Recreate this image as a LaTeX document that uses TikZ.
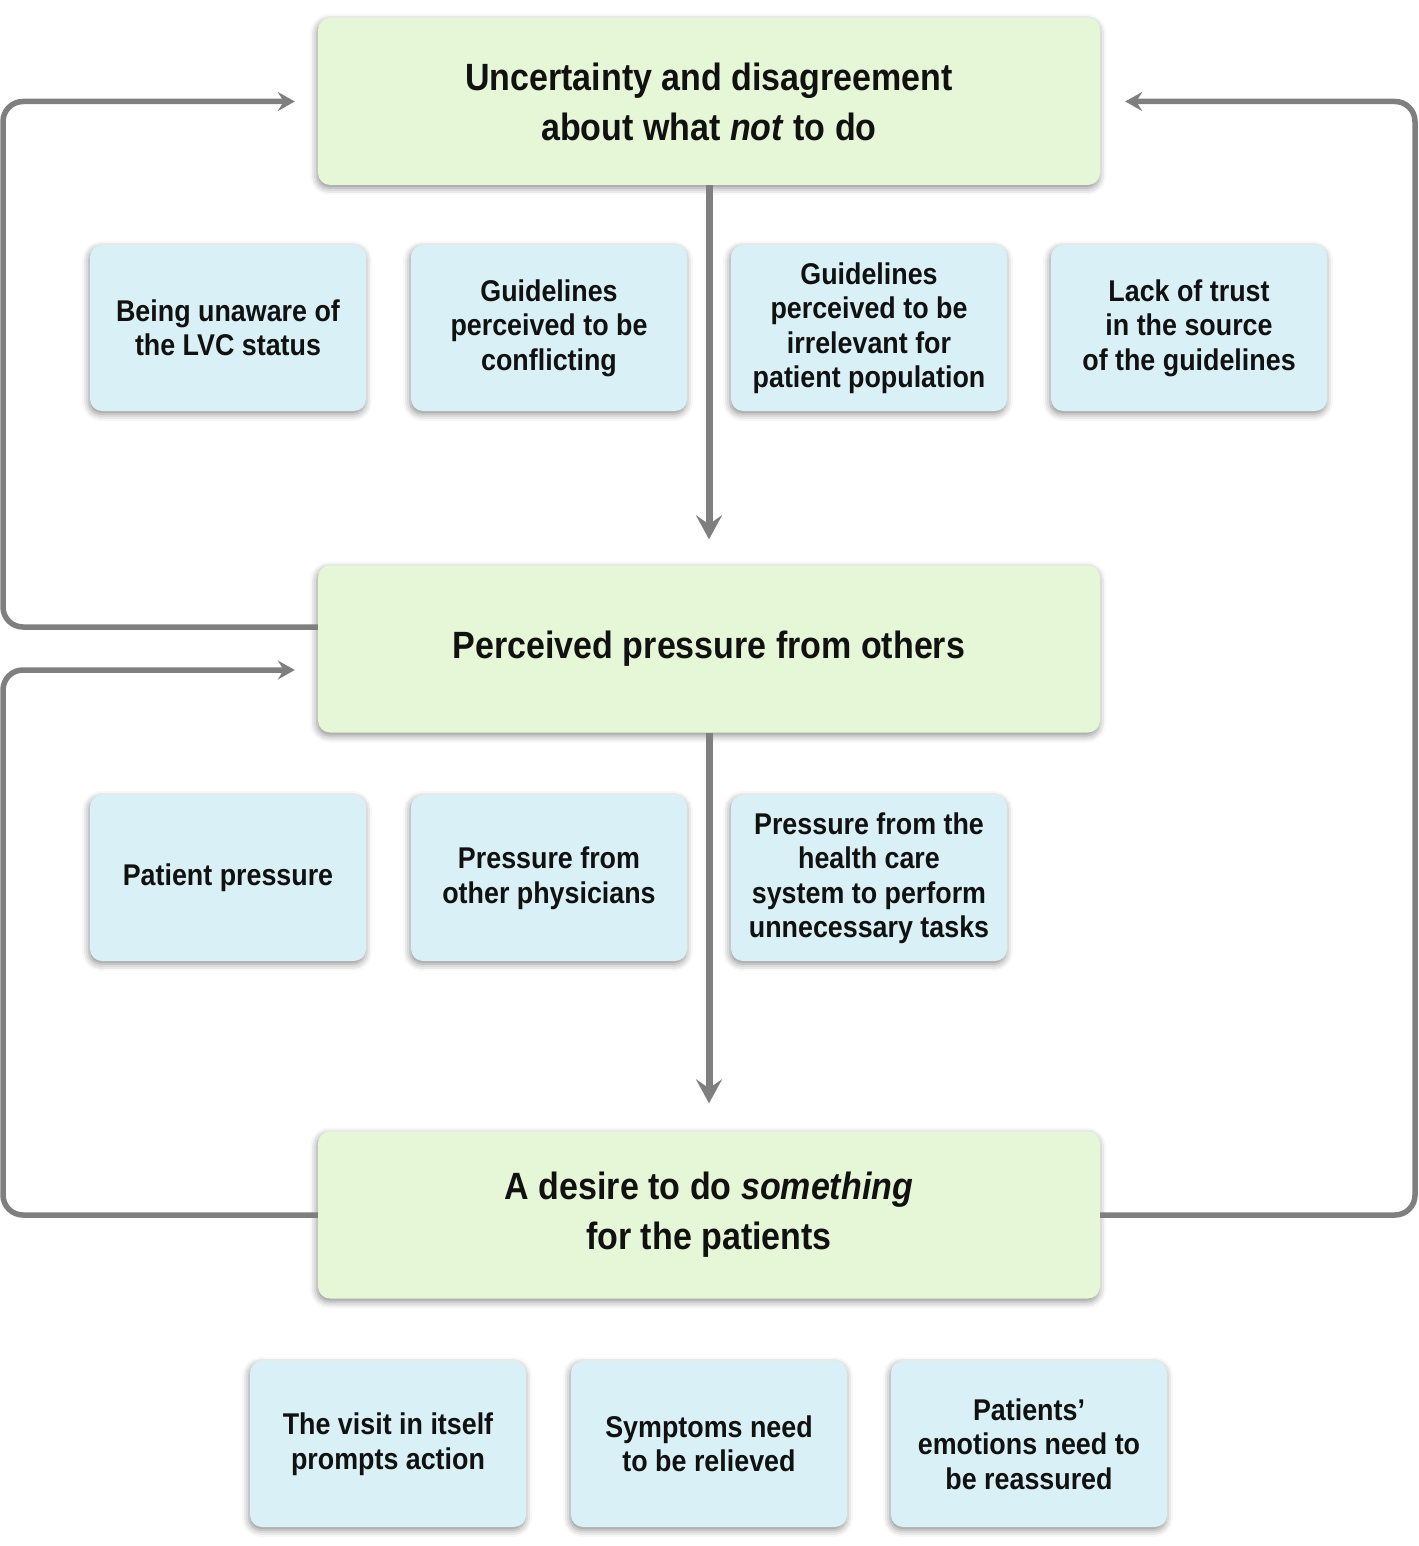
\documentclass[tikz,border=0pt]{standalone}
\usepackage{fontspec}
\setmainfont{Liberation Sans}[FakeStretch=0.895]
\usetikzlibrary{arrows.meta,shadows.blur}
\definecolor{mainfill}{HTML}{E6F7D8}
\definecolor{subfill}{HTML}{D9F1F6}
\definecolor{linegray}{HTML}{7F7F7F}
\definecolor{txt}{HTML}{111111}
\tikzset{
  boxshadow/.style={blur shadow={shadow xshift=-1pt, shadow yshift=-3pt, shadow blur radius=7pt, shadow opacity=45}},
  mainbox/.style={fill=mainfill, rounded corners=12pt, minimum width=782pt, minimum height=167pt,
    boxshadow, align=center, text=txt, font=\fontsize{38}{50}\selectfont\bfseries},
  subbox/.style={fill=subfill, rounded corners=12pt, minimum width=276pt, minimum height=166pt,
    boxshadow, align=center, text=txt, font=\fontsize{30}{34.5}\selectfont\bfseries},
  vconn/.style={draw=linegray, line width=7pt, -{Stealth[length=24pt, width=26pt, inset=9pt]}},
  loopconn/.style={draw=linegray, line width=5.5pt, rounded corners=20pt, -{Stealth[length=17pt, width=19pt, inset=6pt]}},
}
\begin{document}
\begin{tikzpicture}[x=1pt,y=-1pt]
\useasboundingbox (0,0) rectangle (1418,1546);
% main boxes
\node[mainbox] (A) at (709,101.5) {Uncertainty and disagreement\\about what \textit{not} to do};
\node[mainbox] (B) at (709,649) {Perceived pressure from others};
\node[mainbox] (C) at (709,1215) {A desire to do \textit{something}\\for the patients};
% row 1
\node[subbox] (s11) at (228,328) {Being unaware of\\the LVC status};
\node[subbox] (s12) at (549,328) {Guidelines\\perceived to be\\conflicting};
\node[subbox] (s13) at (869,328) {Guidelines\\perceived to be\\irrelevant for\\patient population};
\node[subbox] (s14) at (1189,328) {Lack of trust\\in the source\\of the guidelines};
% row 2
\node[subbox] (s21) at (228,878) {Patient pressure};
\node[subbox] (s22) at (549,878) {Pressure from\\other physicians};
\node[subbox] (s23) at (869,878) {Pressure from the\\health care\\system to perform\\unnecessary tasks};
% row 3
\node[subbox] (s31) at (388,1444) {The visit in itself\\prompts action};
\node[subbox] (s32) at (709,1444) {Symptoms need\\to be relieved};
\node[subbox] (s33) at (1029,1444) {Patients’\\emotions need to\\be reassured};
% connectors
\draw[vconn, shorten >=26pt] (A.south) -- (B.north);
\draw[vconn, shorten >=28pt] (B.south) -- (C.north);
\draw[loopconn, shorten >=23pt] ([yshift=22pt]B.west) -| (3,101.5) -- (A.west);
\draw[loopconn, shorten >=23pt] (C.west) -| (3,670) -- ([yshift=-21pt]B.west);
\draw[loopconn, shorten >=25pt] (C.east) -| (1415,101.5) -- (A.east);
\end{tikzpicture}
\end{document}
